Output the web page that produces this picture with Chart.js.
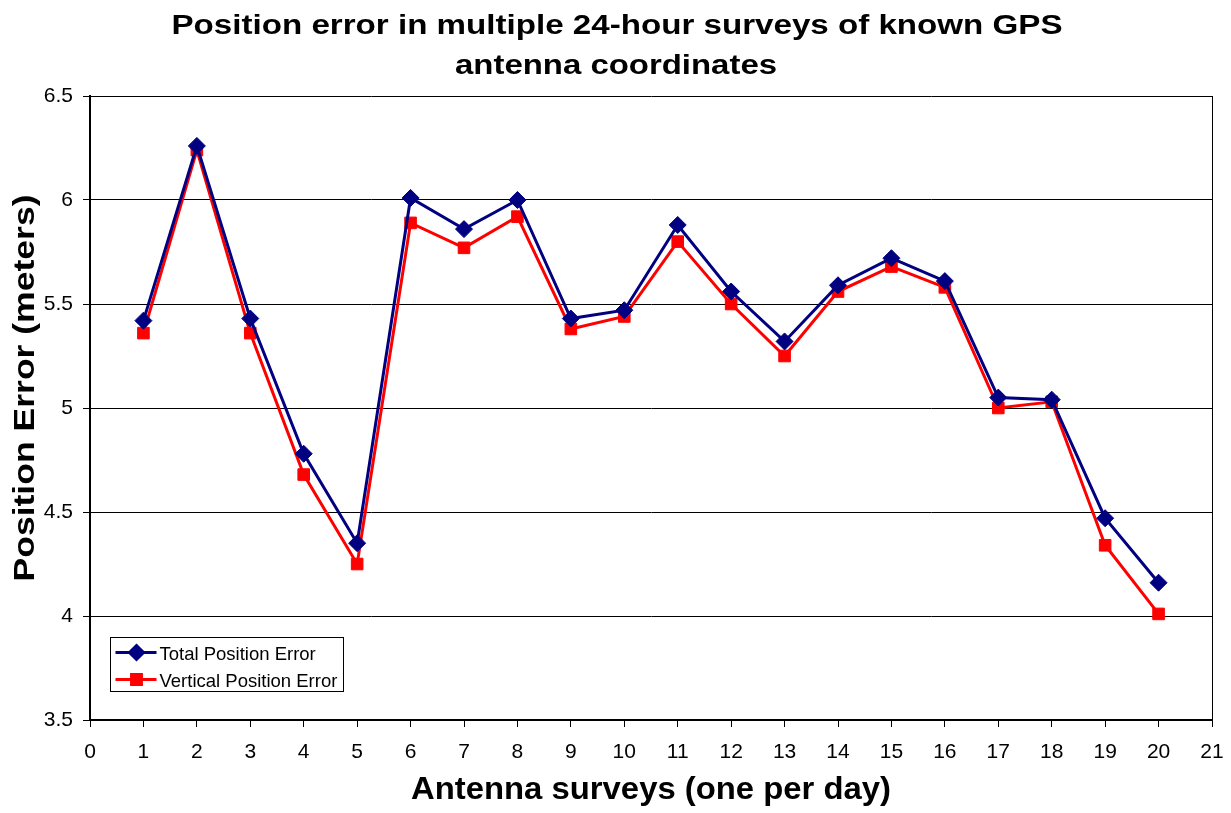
<!DOCTYPE html>
<html>
<head>
<meta charset="utf-8">
<script src="https://cdn.jsdelivr.net/npm/chart.js@4.4.1/dist/chart.umd.min.js"></script>
<style>
  html, body { margin: 0; padding: 0; background: #fff; }
  #wrap { width: 1231px; height: 813px; }
</style>
</head>
<body>
<div id="wrap"><canvas id="line-chart" width="1231" height="813"></canvas></div>
<script>
// ------------------------------------------------------
// @Data
// ------------------------------------------------------
const surveys = [1, 2, 3, 4, 5, 6, 7, 8, 9, 10, 11, 12, 13, 14, 15, 16, 17, 18, 19, 20];
const totalError = [5.42, 6.26, 5.43, 4.78, 4.35, 6.01, 5.86, 6.00, 5.43, 5.47,
                    5.88, 5.56, 5.32, 5.59, 5.72, 5.61, 5.05, 5.04, 4.47, 4.16];
const verticalError = [5.36, 6.24, 5.36, 4.68, 4.25, 5.89, 5.77, 5.92, 5.38, 5.44,
                       5.80, 5.50, 5.25, 5.56, 5.68, 5.58, 5.00, 5.03, 4.34, 4.01];
const xTicks = [0, 1, 2, 3, 4, 5, 6, 7, 8, 9, 10, 11, 12, 13, 14, 15, 16, 17, 18, 19, 20, 21];
const yTicks = [3.5, 4, 4.5, 5, 5.5, 6, 6.5];

const titleLines = ['Position error in multiple 24-hour surveys of known GPS', 'antenna coordinates'];
const xTitle = 'Antenna surveys (one per day)';
const yTitle = 'Position Error (meters)';

const font = "Arial, 'Liberation Sans', sans-serif";

function toPoints(values) {
    return surveys.map(function (s, i) { return { x: s, y: values[i] }; });
}

// the source chart uses horizontally stretched bold text, so squeeze it to a width
function drawWideText(ctx, text, cx, baseline, size, width, rotate) {
    ctx.save();
    ctx.font = 'bold ' + size + 'px ' + font;
    ctx.textAlign = 'center';
    ctx.textBaseline = 'alphabetic';
    ctx.fillStyle = '#000';
    const sx = width / ctx.measureText(text).width;
    ctx.translate(cx, baseline);
    if (rotate) {
        ctx.rotate(-Math.PI / 2);
    }
    ctx.scale(sx, 1);
    ctx.fillText(text, 0, 0);
    ctx.restore();
}

// titles, right frame and a legend inside the plot area
const chartDecor = {
    id: 'chartDecor',
    afterDraw: function (chart) {
        const ctx = chart.ctx;
        const area = chart.chartArea;
        ctx.save();
        ctx.strokeStyle = '#000';
        ctx.lineWidth = 1;
        ctx.beginPath();
        ctx.moveTo(area.right + 0.5, area.top);
        ctx.lineTo(area.right + 0.5, area.bottom);
        ctx.stroke();

        drawWideText(ctx, titleLines[0], 617, 34, 27, 891, false);
        drawWideText(ctx, titleLines[1], 616, 74, 27, 322, false);
        drawWideText(ctx, xTitle, (area.left + area.right) / 2, 799, 31, 480, false);
        drawWideText(ctx, yTitle, 34, 388, 30, 387, true);

        const bx = 110.5, by = 637.5, bw = 233, bh = 54;
        ctx.fillStyle = '#fff';
        ctx.fillRect(bx, by, bw, bh);
        ctx.strokeStyle = '#000';
        ctx.strokeRect(bx, by, bw, bh);

        ctx.font = '18.5px ' + font;
        ctx.textBaseline = 'alphabetic';
        chart.data.datasets.forEach(function (ds, i) {
            const cy = by + 15 + i * 27;
            ctx.strokeStyle = ds.borderColor;
            ctx.lineWidth = 3;
            ctx.beginPath();
            ctx.moveTo(bx + 5, cy);
            ctx.lineTo(bx + 46, cy);
            ctx.stroke();
            Chart.helpers.drawPoint(ctx, {
                pointStyle: ds.pointStyle,
                radius: 7,
                borderWidth: 1,
                rotation: 0
            }, bx + 26, cy);
            ctx.fillStyle = ds.borderColor;
            ctx.lineWidth = 1;
            ctx.fill();
            ctx.stroke();
            ctx.fillStyle = '#000';
            ctx.fillText(ds.label, bx + 49, cy + 7);
        });
        ctx.restore();
    }
};

let lineChartBox = document.getElementById('line-chart');
let lineCtx = lineChartBox.getContext('2d');

new Chart(lineCtx, {
    type: 'line',
    data: {
        datasets: [{
            label: 'Total Position Error',
            data: toPoints(totalError),
            borderColor: '#000080',
            backgroundColor: '#000080',
            pointBackgroundColor: '#000080',
            pointBorderColor: '#000080',
            pointStyle: 'rectRot',
            pointRadius: 8.5,
            pointBorderWidth: 1,
            borderWidth: 3,
            tension: 0
        }, {
            label: 'Vertical Position Error',
            data: toPoints(verticalError),
            borderColor: '#ff0000',
            backgroundColor: '#ff0000',
            pointBackgroundColor: '#ff0000',
            pointBorderColor: '#ff0000',
            pointStyle: 'rect',
            pointRadius: 8.2,
            pointBorderWidth: 1,
            borderWidth: 3,
            tension: 0
        }]
    },
    options: {
        responsive: false,
        animation: false,
        layout: { padding: { left: 0, right: 19, top: 96, bottom: 0 } },
        plugins: {
            legend: { display: false },
            tooltip: { enabled: false },
            title: { display: false }
        },
        scales: {
            x: {
                type: 'linear',
                min: xTicks[0],
                max: xTicks[xTicks.length - 1],
                afterBuildTicks: function (scale) {
                    scale.ticks = xTicks.map(function (v) { return { value: v }; });
                },
                afterFit: function (scale) {
                    scale.height = 93;
                    scale.paddingLeft = 0;
                    scale.paddingRight = 0;
                },
                ticks: {
                    color: '#000',
                    font: { family: font, size: 21 },
                    padding: 13,
                    maxRotation: 0,
                    autoSkip: false
                },
                grid: {
                    drawOnChartArea: false,
                    drawTicks: true,
                    tickLength: 7,
                    color: '#000',
                    lineWidth: 1
                },
                border: { display: true, color: '#000', width: 2 }
            },
            y: {
                min: yTicks[0],
                max: yTicks[yTicks.length - 1],
                afterBuildTicks: function (scale) {
                    scale.ticks = yTicks.map(function (v) { return { value: v }; });
                },
                afterFit: function (scale) { scale.width = 90; },
                ticks: {
                    color: '#000',
                    font: { family: font, size: 21 },
                    padding: 10,
                    callback: function (value) { return String(value); }
                },
                grid: {
                    color: '#000',
                    lineWidth: 1,
                    drawTicks: true,
                    tickLength: 7
                },
                border: { display: true, color: '#000', width: 2 }
            }
        }
    },
    plugins: [chartDecor]
});
</script>
</body>
</html>
